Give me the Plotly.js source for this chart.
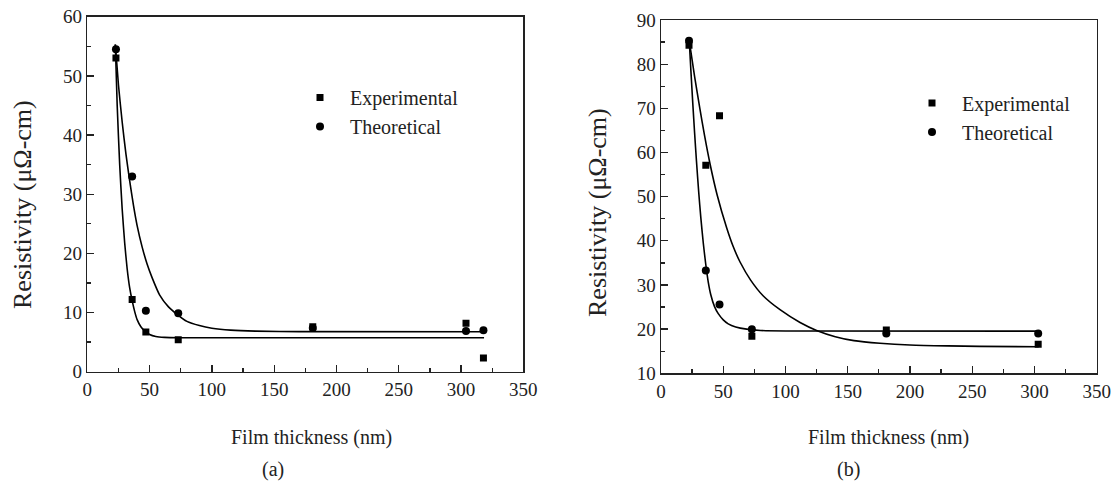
<!DOCTYPE html>
<html>
<head>
<meta charset="utf-8">
<script src="https://cdn.plot.ly/plotly-3.0.1.min.js"></script>
<style>html,body{margin:0;padding:0;background:#fff;}#chart{width:1118px;height:489px;}</style>
</head>
<body>
<div id="chart"></div>
<script>
// ---- Panel (a) data ----
const thickA = [23, 36, 47, 73, 181, 304, 318];
const resA_exp = [53.0, 12.2, 6.7, 5.4, 7.6, 8.2, 2.3];
const resA_th = [54.5, 33.0, 10.3, 9.9, 7.4, 6.9, 7.0];
// fitted curves (a)
const fitA_exp_x = [22.5, 24, 26, 28, 30, 32, 34, 36, 38, 40, 43, 46, 50, 55, 62, 75, 318.5];
const fitA_exp_y = [55.3, 45.0, 35.0, 27.5, 21.8, 17.4, 14.2, 12.0, 10.2, 8.8, 7.6, 6.9, 6.3, 5.95, 5.8, 5.75, 5.75];
const fitA_th_x = [22.5, 25, 28, 31, 34, 37, 40, 44, 48, 52, 58, 65, 72, 80, 90, 100, 115, 135, 170, 318.5];
const fitA_th_y = [55.3, 48.5, 42.2, 36.8, 32.3, 28.2, 24.7, 21.1, 18.2, 15.9, 13.0, 11.0, 9.7, 8.5, 7.8, 7.35, 7.02, 6.85, 6.78, 6.76];

// ---- Panel (b) data ----
const thickB = [22.5, 36, 47, 73, 181, 303];
const resB_exp = [84.3, 57.1, 68.3, 18.4, 19.8, 16.6];
const resB_th = [85.3, 33.3, 25.6, 20.0, 19.0, 19.0];
// fitted curves (b)
const fitB_th_x = [22.7, 24, 25.5, 27, 28.5, 30.3, 32, 34, 35.9, 38, 40, 43, 46, 50, 54, 60, 68.8, 80, 100, 303.4];
const fitB_th_y = [85.3, 78.6, 71.3, 64.4, 58.0, 51.0, 45.2, 39.4, 34.8, 30.6, 27.8, 25.1, 23.5, 22.1, 21.2, 20.5, 20.0, 19.7, 19.58, 19.55];
const fitB_exp_x = [22.7, 27, 31.3, 35, 39.4, 45, 52.8, 58, 63.5, 72, 82.2, 95.6, 111.7, 125, 140, 155, 175.9, 200, 230, 256, 303.4];
const fitB_exp_y = [85.3, 77.2, 69.8, 63.8, 57.4, 50.5, 42.9, 38.7, 35.2, 31.1, 27.5, 24.4, 21.5, 19.7, 18.3, 17.4, 16.8, 16.4, 16.2, 16.1, 16.0];

const seriesNames = ['Experimental', 'Theoretical'];
const xTitle = 'Film thickness (nm)';
const yTitle = 'Resistivity (μΩ-cm)';
const panelLabels = ['(a)', '(b)'];

const FONT = 'Liberation Serif';
const W = 1118, H = 489;
const px = v => v / W;
const py = v => 1 - v / H;

const lineStyle = {color: '#000', width: 1.6, shape: 'spline', smoothing: 0.6};

const traces = [
  {x: fitA_exp_x, y: fitA_exp_y, mode: 'lines', line: lineStyle, showlegend: false, xaxis: 'x', yaxis: 'y', hoverinfo: 'skip'},
  {x: fitA_th_x, y: fitA_th_y, mode: 'lines', line: lineStyle, showlegend: false, xaxis: 'x', yaxis: 'y', hoverinfo: 'skip'},
  {x: thickA, y: resA_exp, mode: 'markers', name: seriesNames[0], marker: {symbol: 'square', size: 7, color: '#000'}, xaxis: 'x', yaxis: 'y', legend: 'legend'},
  {x: thickA, y: resA_th, mode: 'markers', name: seriesNames[1], marker: {symbol: 'circle', size: 8, color: '#000'}, xaxis: 'x', yaxis: 'y', legend: 'legend'},
  {x: fitB_th_x, y: fitB_th_y, mode: 'lines', line: lineStyle, showlegend: false, xaxis: 'x2', yaxis: 'y2', hoverinfo: 'skip'},
  {x: fitB_exp_x, y: fitB_exp_y, mode: 'lines', line: lineStyle, showlegend: false, xaxis: 'x2', yaxis: 'y2', hoverinfo: 'skip'},
  {x: thickB, y: resB_exp, mode: 'markers', name: seriesNames[0], marker: {symbol: 'square', size: 7, color: '#000'}, xaxis: 'x2', yaxis: 'y2', legend: 'legend2'},
  {x: thickB, y: resB_th, mode: 'markers', name: seriesNames[1], marker: {symbol: 'circle', size: 8, color: '#000'}, xaxis: 'x2', yaxis: 'y2', legend: 'legend2'}
];

function minorTicks(dtick, tick0) {
  return {ticks: 'inside', ticklen: 4, tickwidth: 1.3, tickcolor: '#222', dtick: dtick, tick0: tick0, showgrid: false};
}

function axisBase(extra) {
  return Object.assign({
    showline: true, linecolor: '#222', linewidth: 1.5, mirror: true,
    showgrid: false, zeroline: false,
    ticks: 'inside', ticklen: 7, tickwidth: 1.3, tickcolor: '#222',
    tickfont: {family: FONT, size: 19, color: '#222'},
    fixedrange: true
  }, extra);
}

const legendBase = {
  font: {family: FONT, size: 20, color: '#222'},
  bgcolor: 'rgba(0,0,0,0)', borderwidth: 0,
  xanchor: 'left', yanchor: 'top', itemwidth: 50
};

const ann = (text, x, y, size, angle) => ({
  text: text, xref: 'paper', yref: 'paper', x: px(x), y: py(y),
  xanchor: 'center', yanchor: 'middle', showarrow: false, textangle: angle || 0,
  font: {family: FONT, size: size, color: '#222'}
});

const layout = {
  width: W, height: H,
  font: {family: FONT, color: '#222'},
  margin: {l: 0, r: 0, t: 0, b: 0},
  paper_bgcolor: '#fff', plot_bgcolor: '#fff',
  xaxis: axisBase({domain: [px(87.3), px(523.3)], range: [0, 350], dtick: 50, tick0: 0, anchor: 'y', minor: minorTicks(25, 0)}),
  yaxis: axisBase({domain: [py(371.7), py(16.7)], range: [0, 60], dtick: 10, tick0: 0, anchor: 'x', minor: minorTicks(5, 0)}),
  xaxis2: axisBase({domain: [px(661), px(1096.7)], range: [0, 350], dtick: 50, tick0: 0, anchor: 'y2', minor: minorTicks(25, 0)}),
  yaxis2: axisBase({domain: [py(373.3), py(20)], range: [10, 90], dtick: 10, tick0: 10, anchor: 'x2', minor: minorTicks(5, 10)}),
  legend: Object.assign({}, legendBase, {x: px(290), y: py(78)}),
  legend2: Object.assign({}, legendBase, {x: px(902), y: py(83.5)}),
  annotations: [
    ann(yTitle, 22, 205, 26, -90),
    ann(yTitle, 598, 213, 26, -90),
    ann(xTitle, 311, 437, 20),
    ann(xTitle, 888, 437, 20),
    ann(panelLabels[0], 273, 469, 20),
    ann(panelLabels[1], 848, 469, 20)
  ]
};

Plotly.newPlot('chart', traces, layout, {displayModeBar: false, staticPlot: true});
</script>
</body>
</html>
